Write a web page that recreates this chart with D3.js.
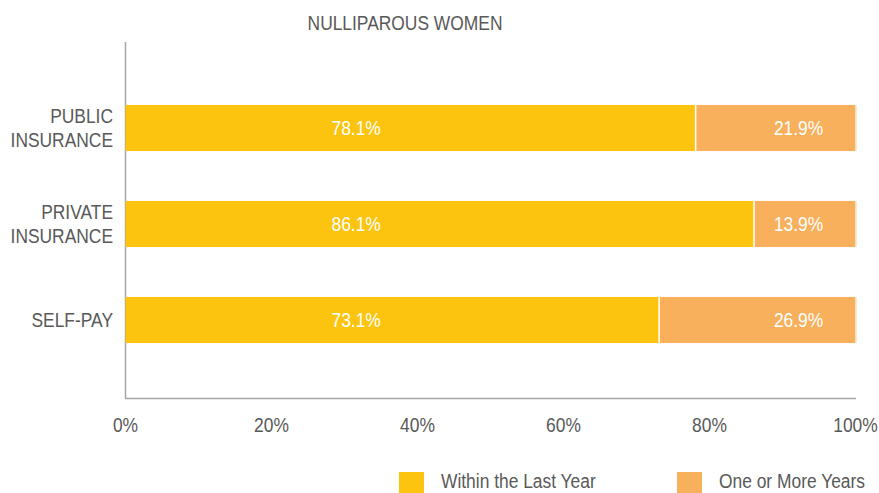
<!DOCTYPE html>
<html>
<head>
<meta charset="utf-8">
<script src="https://cdn.jsdelivr.net/npm/d3@7"></script>
<style>
  body { margin: 0; background: #fff; }
  text { font-family: "Liberation Sans", Arial, sans-serif; font-size: 20px; }
</style>
</head>
<body>
<script>
// data
const categories = [["PUBLIC", "INSURANCE"], ["PRIVATE", "INSURANCE"], ["SELF-PAY"]];
const withinLastYear = [78.1, 86.1, 73.1];
const oneOrMoreYears = [21.9, 13.9, 26.9];
const ticks = [0, 20, 40, 60, 80, 100];
const seriesNames = ["Within the Last Year", "One or More Years"];
const colors = ["#FDC40F", "#F9B05C"];

const width = 879, height = 493;
const narrow = 0.87; // squeeze text to look like a condensed face
const svg = d3.select("body").append("svg")
  .attr("width", width)
  .attr("height", height);

const x = d3.scaleLinear().domain([0, 100]).range([125.5, 855.5]);
const y = d3.scaleBand().domain(d3.range(categories.length)).range([80, 368]).paddingInner(0.52).paddingOuter(0.26);

// place a text at (px, py) squeezed horizontally
function put(sel, px, py) {
  return sel.attr("transform", d => {
    const a = typeof px === "function" ? px(d) : px;
    const b = typeof py === "function" ? py(d) : py;
    return `translate(${a},${b}) scale(${narrow},1)`;
  });
}

// title
put(svg.append("text"), 405, 30)
  .attr("text-anchor", "middle")
  .attr("fill", "#595959")
  .text("NULLIPAROUS WOMEN");

// axes lines
svg.append("line").attr("x1", 125.5).attr("x2", 125.5).attr("y1", 42).attr("y2", 399)
  .attr("stroke", "#a6a6a6").attr("stroke-width", 1.5);
svg.append("line").attr("x1", 125).attr("x2", 856).attr("y1", 398.5).attr("y2", 398.5)
  .attr("stroke", "#a6a6a6").attr("stroke-width", 1.5);

// bars
const rows = categories.map((c, i) => ({ i, a: withinLastYear[i], b: oneOrMoreYears[i] }));
const g = svg.selectAll(".row").data(rows).enter().append("g");

g.append("rect")
  .attr("x", x(0))
  .attr("y", d => y(d.i))
  .attr("width", d => x(d.a) - x(0))
  .attr("height", y.bandwidth())
  .attr("fill", colors[0]);
g.append("rect")
  .attr("x", d => x(d.a))
  .attr("y", d => y(d.i))
  .attr("width", d => x(d.a + d.b) - x(d.a))
  .attr("height", y.bandwidth())
  .attr("fill", colors[1]);
g.append("line")
  .attr("x1", d => x(d.a)).attr("x2", d => x(d.a))
  .attr("y1", d => y(d.i)).attr("y2", d => y(d.i) + y.bandwidth())
  .attr("stroke", "#fff").attr("stroke-width", 1.5);
g.append("line")
  .attr("x1", x(100) + 0.5).attr("x2", x(100) + 0.5)
  .attr("y1", d => y(d.i)).attr("y2", d => y(d.i) + y.bandwidth())
  .attr("stroke", "#FCE0BF").attr("stroke-width", 1.5);

// value labels
put(g.append("text"), x(31.6), d => y(d.i) + y.bandwidth() / 2 + 7)
  .attr("text-anchor", "middle")
  .attr("fill", "#fff")
  .text(d => d.a.toFixed(1) + "%");
put(g.append("text"), x(92.2), d => y(d.i) + y.bandwidth() / 2 + 7)
  .attr("text-anchor", "middle")
  .attr("fill", "#fff")
  .text(d => d.b.toFixed(1) + "%");

// category labels
svg.selectAll(".cat").data(categories).enter().append("text")
  .attr("text-anchor", "end")
  .attr("fill", "#595959")
  .each(function (d, i) {
    const cy = y(i) + y.bandwidth() / 2;
    const lh = 25;
    const start = cy - (d.length - 1) * lh / 2 + 7;
    const t = put(d3.select(this), 113, start);
    d.forEach((s, k) => t.append("tspan").attr("x", 0).attr("y", k * lh).text(s));
  });

// x tick labels
put(svg.selectAll(".tick").data(ticks).enter().append("text"), d => x(d), 432)
  .attr("text-anchor", "middle")
  .attr("fill", "#595959")
  .text(d => d + "%");

// legend
const legendX = [399, 677];
seriesNames.forEach((n, i) => {
  svg.append("rect").attr("x", legendX[i]).attr("y", 472).attr("width", 25).attr("height", 21).attr("fill", colors[i]);
  put(svg.append("text"), legendX[i] + 42, 488)
    .attr("fill", "#595959").text(n);
});
</script>
</body>
</html>
